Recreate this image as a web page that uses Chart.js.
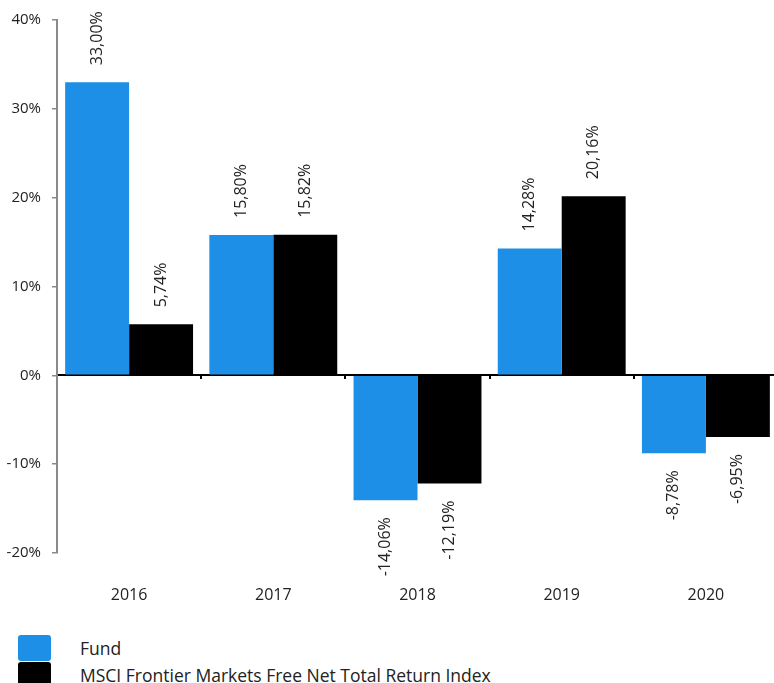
<!DOCTYPE html>
<html>
<head>
<meta charset="utf-8">
<script src="https://cdn.jsdelivr.net/npm/chart.js@4/dist/chart.umd.min.js"></script>
<style>
  html, body { margin: 0; padding: 0; background: #fff; overflow: hidden; }
  #wrap { position: relative; width: 782px; height: 683px; }
  #chart { position: absolute; left: 0; top: 0; }
  #legend { position: absolute; left: 18px; top: 634px; font-family: "Open Sans", sans-serif; font-size: 17.5px; color: #222; }
  .item { display: flex; align-items: center; height: 27px; }
  .box { width: 33px; height: 26px; border-radius: 3px; margin-right: 29px; }
</style>
</head>
<body>
<div id="wrap">
  <canvas id="chart" width="782" height="617"></canvas>
  <div id="legend"></div>
</div>
<script>
// values
var years = ["2016", "2017", "2018", "2019", "2020"];
var fundReturns = [33.00, 15.80, -14.06, 14.28, -8.78];
var indexReturns = [5.74, 15.82, -12.19, 20.16, -6.95];
var seriesNames = ["Fund", "MSCI Frontier Markets Free Net Total Return Index"];
var seriesColors = ["#1E8FE6", "#000000"];

function fmt(v) {
	return v.toFixed(2).replace(".", ",") + "%";
}

//value labels, turned on their side like the original
var barLabels = {
	id: "barLabels",
	afterDatasetsDraw: function(chart) {
		var ctx = chart.ctx;
		ctx.save();
		ctx.font = "16px 'Open Sans'";
		ctx.fillStyle = "#222";
		ctx.textBaseline = "middle";
		chart.data.datasets.forEach(function(ds, i) {
			chart.getDatasetMeta(i).data.forEach(function(bar, j) {
				var v = ds.data[j];
				ctx.save();
				ctx.translate(bar.x, bar.y);
				ctx.rotate(-Math.PI / 2);
				if (v >= 0) {
					ctx.textAlign = "left";
					ctx.fillText(fmt(v), 17, 0);
				} else {
					ctx.textAlign = "right";
					ctx.fillText(fmt(v), -17, 0);
				}
				ctx.restore();
			});
		});
		ctx.restore();
	}
};

var ctx1 = document.getElementById("chart");
var returnsChart = new Chart(ctx1, {
	type: 'bar',
	data: {
		labels: years,
		datasets: [
			{ label: seriesNames[0], data: fundReturns, backgroundColor: seriesColors[0], barPercentage: 1, categoryPercentage: 0.887 },
			{ label: seriesNames[1], data: indexReturns, backgroundColor: seriesColors[1], barPercentage: 1, categoryPercentage: 0.887 }
		]
	},
	options: {
		responsive: false,
		animation: false,
		layout: { padding: { left: 6, right: 4, top: 19, bottom: 4 } },
		plugins: { legend: { display: false }, tooltip: { enabled: false } },
		scales: {
			x: {
				position: 'bottom',
				border: { display: false },
				grid: { display: false },
				ticks: { color: "#222", padding: 25, font: { family: "Open Sans", size: 16 } },
				afterFit: function(scale) { scale.height = 60; }
			},
			x2: {
				type: 'category',
				labels: years,
				position: { y: 0 },
				offset: true,
				border: { display: true, color: "#000", width: 2 },
				grid: { offset: true, drawOnChartArea: false, drawTicks: true, tickLength: 3, color: "#000", lineWidth: 2 },
				ticks: { display: false }
			},
			y: {
				min: -20,
				max: 40,
				border: { display: true, color: "#8a8a8a", width: 2 },
				grid: { drawOnChartArea: false, drawTicks: true, tickLength: 5, color: "#8a8a8a", lineWidth: 1.5 },
				ticks: {
					stepSize: 10,
					padding: 11,
					color: "#222",
					font: { family: "Open Sans", size: 15 },
					callback: function(v) { return v + "%"; }
				},
				afterFit: function(scale) { scale.width = 51; }
			}
		}
	},
	plugins: [barLabels]
});

//legend below the chart
var legendHtml = "";
seriesNames.forEach(function(name, i) {
	legendHtml += '<div class="item"><div class="box" style="background:' + seriesColors[i] + '"></div><span>' + name + '</span></div>';
});
document.getElementById("legend").innerHTML = legendHtml;
</script>
</body>
</html>
